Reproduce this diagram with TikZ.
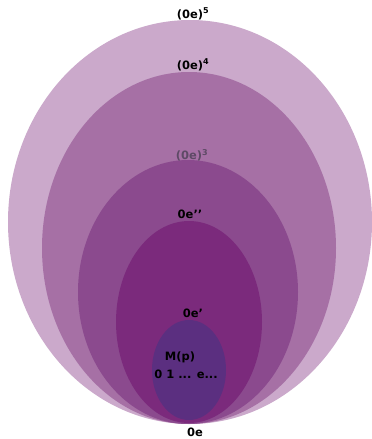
\documentclass[tikz,border=0pt]{standalone}
\usepackage{fontspec}
\setmainfont{DejaVu Sans}
\definecolor{c1}{HTML}{CBA9CB}
\definecolor{c2}{HTML}{A670A5}
\definecolor{c3}{HTML}{8B4A8E}
\definecolor{c4}{HTML}{7B2A7C}
\definecolor{c5}{HTML}{5B2F80}
\definecolor{greylbl}{HTML}{5E4A66}
\begin{document}
\begin{tikzpicture}[x=1pt,y=-1pt,
  lbl/.style={font=\bfseries\fontsize{11.5}{13}\selectfont, inner sep=0pt, text=black}]
\useasboundingbox (0,0) rectangle (372,439);
\fill[c1] (190,222) ellipse [x radius=182, y radius=202];
\fill[c2] (189,248) ellipse [x radius=147, y radius=176];
\fill[c3] (188,292) ellipse [x radius=110, y radius=132];
\fill[c4] (189,322) ellipse [x radius=73, y radius=101];
\fill[c5] (189,370) ellipse [x radius=37, y radius=50];
\node[lbl] (p5) at (193,14) {(0e)\textsuperscript{5}};
\node[lbl] (p4) at (193,65) {(0e)\textsuperscript{4}};
\node[lbl, text=greylbl] (p3) at (192,155) {(0e)\textsuperscript{3}};
\node[lbl] (pdd) at (190,214) {0e’’};
\node[lbl] (pd) at (193,313) {0e’};
\node[lbl] (mp) at (180,357) {M(p)};
\node[lbl] (seq) at (186,374) {0 1 ... e...};
\node[lbl] (p0) at (195,432) {0e};
\end{tikzpicture}
\end{document}
